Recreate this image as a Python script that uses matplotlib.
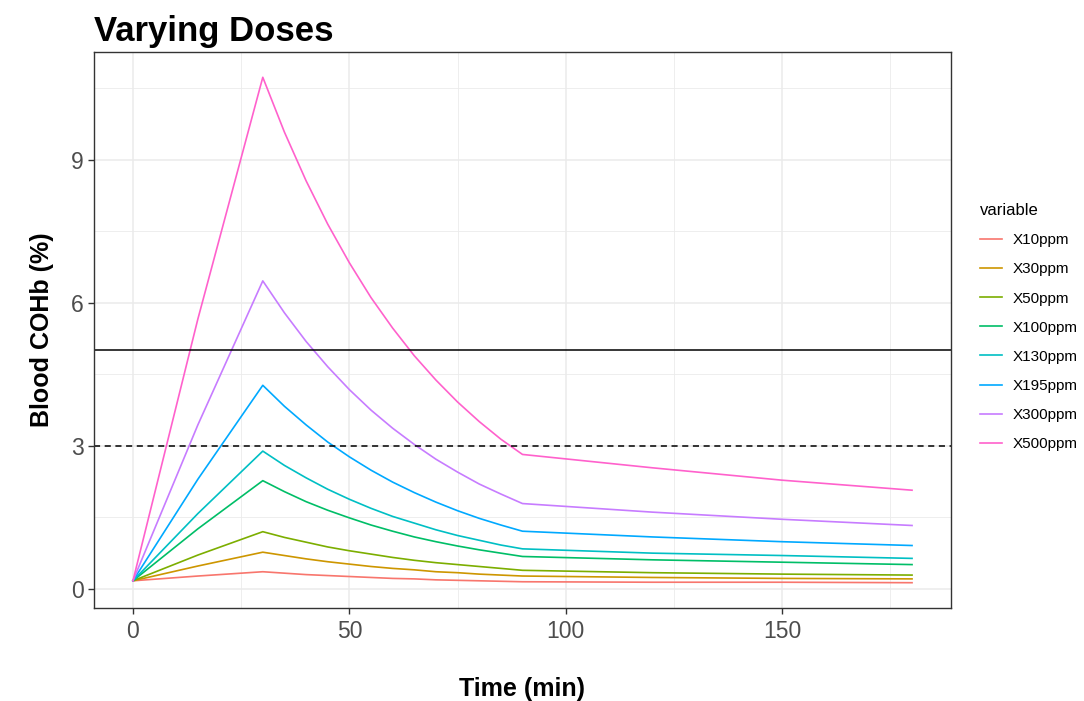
import matplotlib.pyplot as plt
import matplotlib as mpl

mpl.rcParams['font.family'] = ['Liberation Sans', 'DejaVu Sans']

# time points (min)
time = [0, 15, 30, 35, 40, 45, 50, 55, 60, 65, 70, 75, 80, 85, 90, 120, 150, 180]

# blood COHb (%) for each dose
x10ppm = [0.17, 0.27, 0.36, 0.33, 0.30, 0.28, 0.26, 0.24, 0.22, 0.21, 0.19, 0.18, 0.17, 0.16, 0.15, 0.14, 0.14, 0.13]
x30ppm = [0.17, 0.48, 0.77, 0.70, 0.63, 0.57, 0.52, 0.47, 0.43, 0.40, 0.36, 0.34, 0.31, 0.29, 0.27, 0.24, 0.22, 0.21]
x50ppm = [0.17, 0.71, 1.20, 1.08, 0.98, 0.88, 0.80, 0.73, 0.66, 0.60, 0.55, 0.51, 0.47, 0.43, 0.39, 0.34, 0.31, 0.29]
x100ppm = [0.17, 1.26, 2.27, 2.04, 1.83, 1.65, 1.49, 1.34, 1.21, 1.09, 0.99, 0.90, 0.82, 0.75, 0.68, 0.61, 0.56, 0.51]
x130ppm = [0.17, 1.58, 2.89, 2.59, 2.33, 2.09, 1.88, 1.69, 1.52, 1.38, 1.24, 1.12, 1.02, 0.92, 0.84, 0.75, 0.70, 0.64]
x195ppm = [0.17, 2.30, 4.27, 3.83, 3.44, 3.08, 2.77, 2.49, 2.24, 2.02, 1.82, 1.64, 1.48, 1.34, 1.21, 1.09, 0.99, 0.91]
x300ppm = [0.17, 3.44, 6.46, 5.79, 5.19, 4.66, 4.18, 3.75, 3.37, 3.03, 2.72, 2.45, 2.20, 1.99, 1.79, 1.61, 1.46, 1.33]
x500ppm = [0.17, 5.66, 10.73, 9.58, 8.56, 7.65, 6.84, 6.11, 5.47, 4.89, 4.38, 3.92, 3.51, 3.14, 2.82, 2.54, 2.28, 2.07]

labels = ["X10ppm", "X30ppm", "X50ppm", "X100ppm", "X130ppm", "X195ppm", "X300ppm", "X500ppm"]
series = [x10ppm, x30ppm, x50ppm, x100ppm, x130ppm, x195ppm, x300ppm, x500ppm]
colors = ["#F8766D", "#CD9600", "#7CAE00", "#00BE67", "#00BFC4", "#00A9FF", "#C77CFF", "#FF61CC"]

fig = plt.figure(figsize=(10.84, 7.01), dpi=100)
ax = fig.add_axes([0.0867, 0.1327, 0.7906, 0.7931])

# ggplot theme_bw look
ax.set_facecolor("white")
for sp in ax.spines.values():
    sp.set_color("#333333")
    sp.set_linewidth(1.0)
ax.set_xticks([0, 50, 100, 150])
ax.set_yticks([0, 3, 6, 9])
ax.set_xticks([25, 75, 125, 175], minor=True)
ax.set_yticks([1.5, 4.5, 7.5, 10.5], minor=True)
ax.grid(which="major", color="#EBEBEB", linewidth=1.1)
ax.grid(which="minor", color="#EBEBEB", linewidth=0.6)
ax.set_axisbelow(True)
ax.tick_params(which="major", length=4, width=1.0, color="#333333",
               labelsize=16.5, labelcolor="#4D4D4D")
ax.tick_params(axis="x", which="major", pad=5)
ax.tick_params(which="minor", length=0)

for lab, ys, c in zip(labels, series, colors):
    ax.plot(time, ys, color=c, linewidth=1.2, label=lab)

ax.axhline(5, color="black", linewidth=1.1)
ax.axhline(3, color="black", linewidth=1.1, linestyle=(0, (4, 3)))

ax.set_xlim(-9, 189)
ax.set_ylim(-0.40, 11.26)

ax.set_xlabel("Time (min)", fontsize=18, fontweight="bold", labelpad=24)
ax.set_ylabel("Blood COHb (%)", fontsize=18, fontweight="bold", labelpad=12)
ax.set_title("Varying Doses", fontsize=25, fontweight="bold", loc="left", pad=8)

leg = ax.legend(loc="center left", bbox_to_anchor=(1.018, 0.505), frameon=False,
                title="variable", fontsize=11, title_fontsize=12,
                handlelength=1.45, labelspacing=0.99, handletextpad=0.7)
leg._legend_box.align = "left"

fig.savefig("out.png", dpi=100)
